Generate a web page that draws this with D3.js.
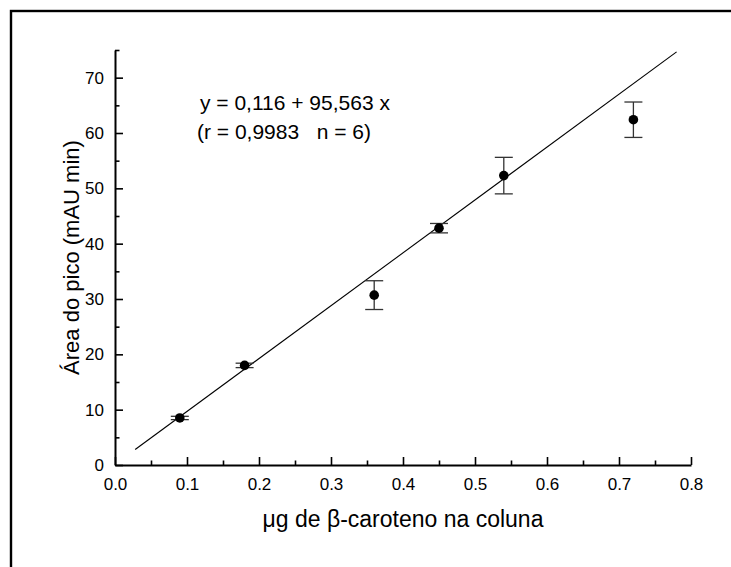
<!DOCTYPE html>
<html>
<head>
<meta charset="utf-8">
<script src="https://cdn.jsdelivr.net/npm/d3@7"></script>
<style>
  html, body { margin: 0; padding: 0; background: #fff; }
  svg { display: block; font-family: "Liberation Sans", Arial, sans-serif; }
</style>
</head>
<body>
<svg id="chart" width="731" height="567"></svg>
<script>
// Calibration data: amount of beta-carotene injected vs. peak area
const massValues = [0.09, 0.18, 0.36, 0.45, 0.54, 0.72];
const areaValues = [8.5, 18.0, 30.7, 42.8, 52.3, 62.4];
const errorValues = [0.3, 0.4, 2.6, 0.85, 3.3, 3.2];

// Linear fit y = a + b x, drawn over this x range
const fitIntercept = 0.116;
const fitSlope = 95.563;
const fitRange = [0.028, 0.78];

const xMajorTicks = [0, 0.1, 0.2, 0.3, 0.4, 0.5, 0.6, 0.7, 0.8];
const xMinorTicks = [0.05, 0.15, 0.25, 0.35, 0.45, 0.55, 0.65, 0.75];
const yMajorTicks = [0, 10, 20, 30, 40, 50, 60, 70];
const yMinorTicks = [5, 15, 25, 35, 45, 55, 65, 75];

const equationLines = ["y = 0,116 + 95,563 x", "(r = 0,9983   n = 6)"];

const svg = d3.select("#chart");

// outer frame (extends past the page on the right and bottom)
svg.append("rect")
  .attr("x", 11).attr("y", 11)
  .attr("width", 800).attr("height", 700)
  .attr("fill", "none").attr("stroke", "#000").attr("stroke-width", 2.4);

const plotLeft = 115, plotRight = 691, plotTop = 50, plotBottom = 465;

const x = d3.scaleLinear().domain([0, 0.8]).range([plotLeft, plotRight]);
const y = d3.scaleLinear().domain([0, 75]).range([plotBottom, plotTop]);

// x axis: ticks point inward (upward)
svg.append("g").attr("transform", `translate(0,${plotBottom})`)
  .call(d3.axisBottom(x).tickValues(xMajorTicks).tickSize(-8).tickSizeOuter(0)
    .tickPadding(13).tickFormat(d3.format(".1f")));
svg.append("g").attr("transform", `translate(0,${plotBottom})`)
  .call(d3.axisBottom(x).tickValues(xMinorTicks).tickSize(-4.5).tickSizeOuter(0).tickFormat(""))
  .call(g => g.select(".domain").remove());

// y axis: ticks point inward (rightward)
svg.append("g").attr("transform", `translate(${plotLeft},0)`)
  .call(d3.axisLeft(y).tickValues(yMajorTicks).tickSize(-8).tickSizeOuter(0)
    .tickPadding(11).tickFormat(d3.format("d")));
svg.append("g").attr("transform", `translate(${plotLeft},0)`)
  .call(d3.axisLeft(y).tickValues(yMinorTicks).tickSize(-4.5).tickSizeOuter(0).tickFormat(""))
  .call(g => g.select(".domain").remove());

svg.selectAll(".domain").attr("stroke", "#000").attr("stroke-width", 2);
svg.selectAll(".tick line").attr("stroke", "#000").attr("stroke-width", 1.6);
svg.selectAll(".tick text").attr("font-size", 17).attr("fill", "#000")
  .attr("font-family", "'Liberation Sans', Arial, sans-serif");

// axis titles
svg.append("text")
  .attr("x", (plotLeft + plotRight) / 2).attr("y", 527)
  .attr("text-anchor", "middle").attr("font-size", 23).attr("fill", "#000")
  .text("μg de β-caroteno na coluna");

svg.append("text")
  .attr("transform", `translate(79,${(plotTop + plotBottom) / 2}) rotate(-90)`)
  .attr("text-anchor", "middle").attr("font-size", 22).attr("fill", "#000")
  .text("Área do pico (mAU min)");

// regression line
const fitLine = d3.line().x(d => x(d)).y(d => y(fitIntercept + fitSlope * d));
svg.append("path")
  .attr("d", fitLine(fitRange))
  .attr("fill", "none").attr("stroke", "#000").attr("stroke-width", 1.1);

const points = massValues.map((m, i) => ({ m, a: areaValues[i], e: errorValues[i] }));

// error bars
const capHalf = 9;
const eb = svg.append("g").attr("stroke", "#333").attr("stroke-width", 1.3);
points.forEach(p => {
  eb.append("line").attr("x1", x(p.m)).attr("x2", x(p.m))
    .attr("y1", y(p.a - p.e)).attr("y2", y(p.a + p.e));
  eb.append("line").attr("x1", x(p.m) - capHalf).attr("x2", x(p.m) + capHalf)
    .attr("y1", y(p.a + p.e)).attr("y2", y(p.a + p.e));
  eb.append("line").attr("x1", x(p.m) - capHalf).attr("x2", x(p.m) + capHalf)
    .attr("y1", y(p.a - p.e)).attr("y2", y(p.a - p.e));
});

// data points
svg.append("g").selectAll("circle").data(points).join("circle")
  .attr("cx", d => x(d.m)).attr("cy", d => y(d.a)).attr("r", 4.8)
  .attr("fill", "#000");

// fit equation
const eq = svg.append("text").attr("font-size", 21).attr("fill", "#000")
  .style("white-space", "pre");
equationLines.forEach((line, i) => {
  eq.append("tspan").attr("x", i === 0 ? 200 : 197).attr("y", 110 + i * 29).text(line);
});
</script>
</body>
</html>
